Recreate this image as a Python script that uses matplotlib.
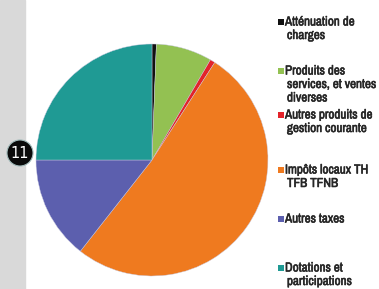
import matplotlib
matplotlib.use("Agg")
import matplotlib.pyplot as plt
from matplotlib.patches import Rectangle, Circle
from matplotlib import font_manager
import matplotlib.patheffects as pe

# shares of receipts (%), clockwise from top
labels = ["Atténuation de\ncharges",
          "Produits des\nservices, et ventes\ndiverses",
          "Autres produits de\ngestion courante",
          "Impôts locaux TH\nTFB TFNB",
          "Autres taxes",
          "Dotations et\nparticipations"]
values = [0.6, 7.8, 0.7, 51.5, 14.4, 25.0]
colors = ["#111111", "#93c152", "#e3232a", "#ef7a1f", "#5c5fae", "#1f9a94"]
legend_y = [22, 71, 115, 170, 219, 268]   # centre of first legend line (px)

names = sorted({f.name for f in font_manager.fontManager.ttflist})
cond = [n for n in names if "Condensed" in n or "Narrow" in n]
fam = cond[:1] + ["DejaVu Sans"]

W, H = 379, 289
fig = plt.figure(figsize=(W / 100, H / 100), dpi=100)
ax = fig.add_axes([0, 0, 1, 1])
ax.set_xlim(0, W); ax.set_ylim(0, H)
ax.set_aspect("equal"); ax.axis("off")

# grey strip and page badge on the left
ax.add_patch(Rectangle((0, 0), 25, H, color="#d9d9d9", zorder=0))
ax.add_patch(Circle((20, H - 153), 13, facecolor="#0a0a0a", edgecolor="#9fb8b8", lw=0.8, zorder=3))
ax.text(20, H - 153, "11", color="white", fontsize=10.5, ha="center", va="center",
        family=["DejaVu Sans"], zorder=4)

ax.pie(values, colors=colors, startangle=90, counterclock=False,
       center=(152, H - 160), radius=116,
       wedgeprops=dict(edgecolor="#c8c8e0", linewidth=0.3))
ax.set_xlim(0, W); ax.set_ylim(0, H)

bold = [pe.withStroke(linewidth=0.4, foreground="#262626")]
for lab, c, y in zip(labels, colors, legend_y):
    ax.add_patch(Rectangle((278, H - y - 3), 6, 6, facecolor=c, edgecolor="none"))
    for i, line in enumerate(lab.split("\n")):
        ax.text(285 if i == 0 else 287, H - y - i * 13.5, line, fontsize=9.4,
                fontweight="bold", color="#262626", family=fam,
                fontstretch="condensed", ha="left", va="center", path_effects=bold)

fig.savefig("out.png", dpi=100)
